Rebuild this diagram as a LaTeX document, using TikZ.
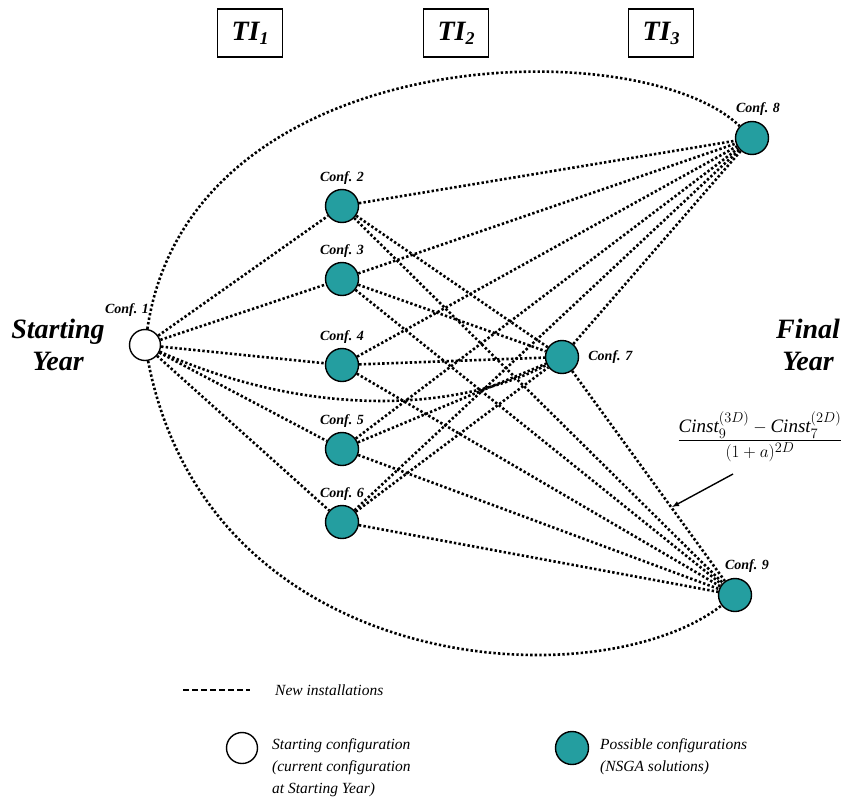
\documentclass[tikz,border=0pt]{standalone}
\usepackage{amsmath}
\usepackage{fontspec}
\setmainfont{Liberation Serif}
\usepackage{tikz}
\usetikzlibrary{positioning,arrows}
\definecolor{confteal}{RGB}{36,158,160}

\begin{document}
\begin{tikzpicture}[
  x=1pt, y=-1pt,
  conf/.style={draw,circle,line width=1.4pt,fill=confteal,minimum size=33pt,inner sep=0pt},
  startconf/.style={draw,circle,line width=1.4pt,fill=white,minimum size=31pt,inner sep=0pt},
  lbl/.style={font=\fontsize{14}{16}\selectfont\bfseries\itshape,inner sep=1pt},
  tibox/.style={draw,line width=1.2pt,minimum width=65pt,minimum height=48pt,inner sep=0pt,font=\fontsize{28}{30}\selectfont\bfseries\itshape},
  yearlbl/.style={align=center,font=\fontsize{28}{32}\selectfont\bfseries\itshape},
  inst/.style={line width=2.6pt,dash pattern=on 2.4pt off 2.2pt},
  legtxt/.style={font=\fontsize{15.5}{22}\selectfont\itshape,align=left,anchor=north west,inner sep=0pt}
    ]
\useasboundingbox (0,0) rectangle (846,811);

\node[startconf] (c1) at (145,345) {};
\node[conf] (c2) at (342,206) {};
\node[conf] (c3) at (342,279) {};
\node[conf] (c4) at (342,365) {};
\node[conf] (c5) at (342,449) {};
\node[conf] (c6) at (342,522) {};
\node[conf] (c7) at (562,357) {};
\node[conf] (c8) at (752,138) {};
\node[conf] (c9) at (735,595) {};

\node[lbl] at (127,310) {Conf. 1};
\node[lbl,above=3pt of c2] {Conf. 2};
\node[lbl,above=3pt of c3] {Conf. 3};
\node[lbl,above=3pt of c4] {Conf. 4};
\node[lbl,above=3pt of c5] {Conf. 5};
\node[lbl,above=3pt of c6] {Conf. 6};
\node[lbl,right=8pt of c7] {Conf. 7};
\node[lbl,above=4pt of c8,xshift=6pt] {Conf. 8};
\node[lbl,above=4pt of c9,xshift=12pt] {Conf. 9};

\node[tibox] (ti1) at (250,33) {TI\raisebox{-0.3ex}{\fontsize{18}{18}\selectfont 1}};
\node[tibox] (ti2) at (456,33) {TI\raisebox{-0.3ex}{\fontsize{18}{18}\selectfont 2}};
\node[tibox] (ti3) at (661,33) {TI\raisebox{-0.3ex}{\fontsize{18}{18}\selectfont 3}};

\node[yearlbl] (sy) at (58,345) {Starting\\Year};
\node[yearlbl] (fy) at (808,345) {Final\\Year};

% connections
\path[inst] (c1) edge (c2)
(c1) edge (c3)
(c1) edge (c4)
(c1) edge (c5)
(c1) edge (c6)
(c2) edge (c8) (c2) edge (c7) (c2) edge (c9)
(c3) edge (c8) (c3) edge (c7) (c3) edge (c9)
(c4) edge (c8) (c4) edge (c7) (c4) edge (c9)
(c5) edge (c8) (c5) edge (c7) (c5) edge (c9)
(c6) edge (c8) (c6) edge (c7) (c6) edge (c9)
(c7) edge (c8)
(c7) edge (c9);
\draw[inst] (c1) .. controls +(155,70) and +(-112,58) .. (c7);
\draw[inst] (c1) .. controls +(45,-305) and +(-112,-108) .. (c8);
\draw[inst] (c1) .. controls +(65,335) and +(-135,105) .. (c9);

% cost term
\node[font=\fontsize{19}{22}\selectfont] (frm) at (760,437)
  {$\dfrac{\mathit{Cinst}_9^{(3D)} - \mathit{Cinst}_7^{(2D)}}{(1+a)^{2D}}$};
\coordinate (at) at (733,474);
\coordinate (ah) at (672,507);
\draw[-latex,line width=1.4pt] (at) -- (ah);

% legend
\coordinate (l1) at (183,690);
\coordinate (l2) at (250,690);
\draw[line width=1.6pt,dash pattern=on 6pt off 3pt] (l1) -- (l2);
\node[legtxt,anchor=west] (ln) at (275,690) {New installations};
\node[startconf] (lw) at (242,748) {};
\node[legtxt] (lt) at (272,738) {Starting configuration\\(current configuration\\at Starting Year)};
\node[conf] (lc) at (572,748) {};
\node[legtxt] (lp) at (600,738) {Possible configurations\\(NSGA solutions)};

\end{tikzpicture}
\end{document}
